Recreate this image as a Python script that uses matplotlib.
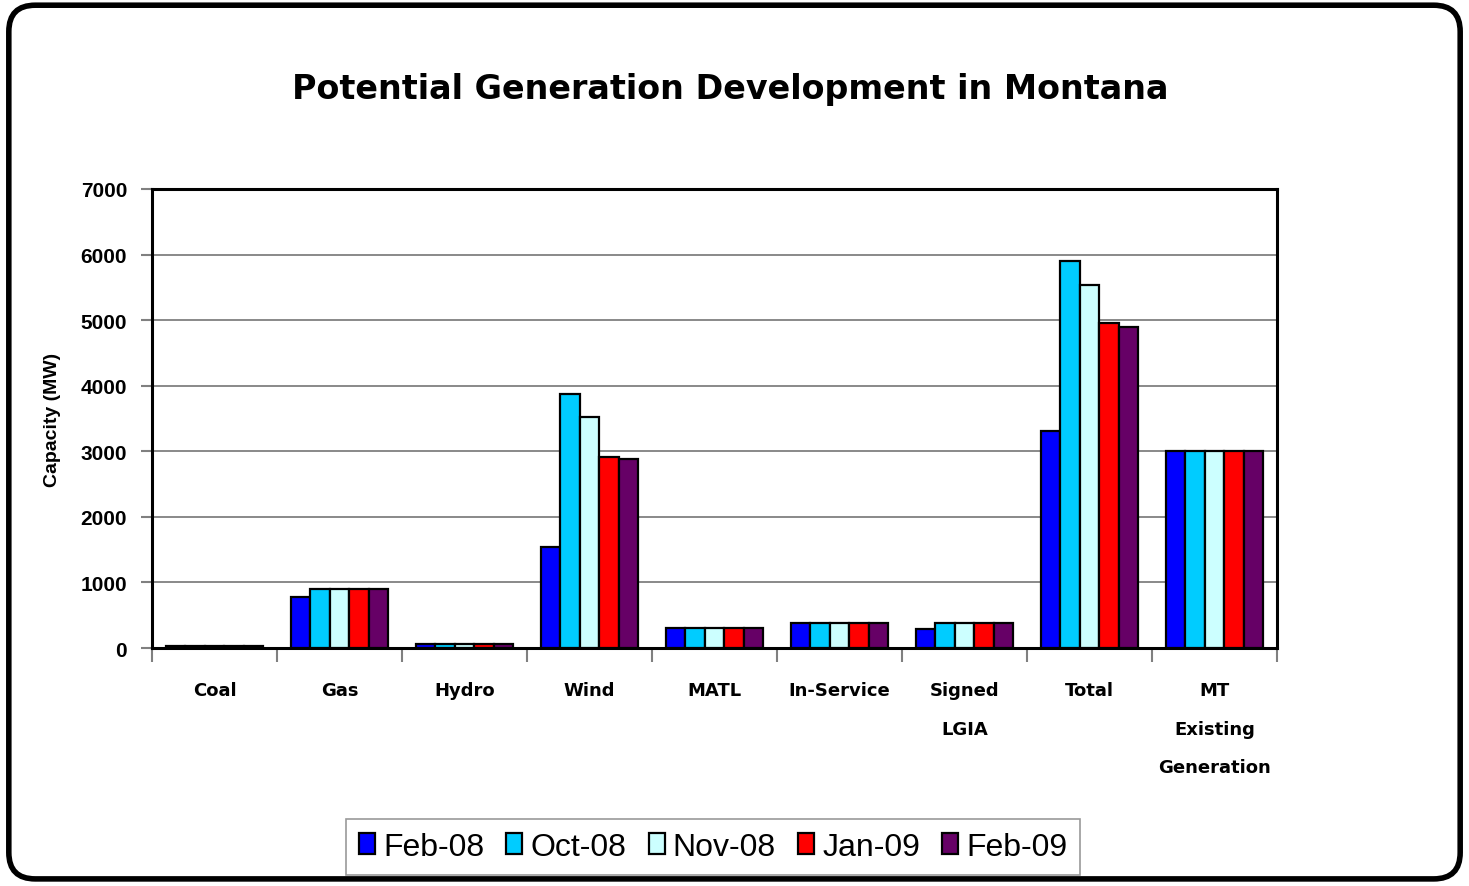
import numpy as np
import matplotlib.pyplot as plt
from matplotlib.patches import FancyBboxPatch

# categories and series values (MW)
categories = ['Coal', 'Gas', 'Hydro', 'Wind', 'MATL', 'In-Service',
              'Signed\nLGIA', 'Total', 'MT\nExisting\nGeneration']
series = ['Feb-08', 'Oct-08', 'Nov-08', 'Jan-09', 'Feb-09']
feb08 = [25, 775, 65, 1540, 300, 380, 290, 3310, 3000]
oct08 = [25, 900, 65, 3880, 300, 380, 380, 5900, 3000]
nov08 = [25, 900, 65, 3520, 300, 380, 380, 5530, 3000]
jan09 = [25, 900, 65, 2910, 300, 380, 380, 4950, 3000]
feb09 = [25, 900, 65, 2880, 300, 380, 380, 4890, 3000]
colors = ['#0000FF', '#00CCFF', '#CCFFFF', '#FF0000', '#660066']

data = [feb08, oct08, nov08, jan09, feb09]

fig = plt.figure(figsize=(14.69, 8.87), dpi=100)
ax = fig.add_axes([0.1035, 0.2683, 0.7658, 0.5175])

# rounded outer border
border = FancyBboxPatch((0.006, 0.008), 0.988, 0.985,
                        boxstyle='round,pad=0,rounding_size=0.018',
                        transform=fig.transFigure, fill=False,
                        edgecolor='black', linewidth=4, mutation_aspect=1.65)
fig.patches.append(border)

width = 0.156
x = np.arange(len(categories))
bars = []
for i, vals in enumerate(data):
    b = ax.bar(x + (i - 2) * width, vals, width, color=colors[i],
               edgecolor='black', linewidth=1.6, zorder=3)
    bars.append(b)

ax.set_xlim(-0.5, len(categories) - 0.5)
ax.set_ylim(0, 7000)
ax.set_yticks(np.arange(0, 7001, 1000))
ax.yaxis.grid(True, color='#808080', linewidth=1.3, zorder=0)

ax.set_xticks(np.arange(-0.5, len(categories), 1.0))
ax.set_xticklabels([])
ax.set_xticks(x, minor=True)
ax.set_xticklabels(categories, minor=True, fontfamily='DejaVu Sans',
                   fontweight='bold', fontsize=13, linespacing=2.45,
                   va='top')
ax.tick_params(axis='x', which='minor', length=0, pad=24)
ax.tick_params(axis='x', which='major', length=10, width=1.5,
               color='#808080', direction='out')
ax.tick_params(axis='y', length=8, width=1.5, color='#808080', pad=10)
for lbl in ax.get_yticklabels():
    lbl.set_fontfamily('Liberation Sans')
    lbl.set_fontweight('bold')
    lbl.set_fontsize(15)

for s in ax.spines.values():
    s.set_linewidth(2.2)
    s.set_color('black')

ax.set_ylabel('Capacity (MW)', fontfamily='Liberation Sans',
              fontweight='bold', fontsize=14, labelpad=14)

fig.text(0.497, 0.899, 'Potential Generation Development in Montana',
         ha='center', va='center', fontfamily='DejaVu Sans',
         fontweight='bold', fontsize=24)

leg = ax.legend(bars, series, loc='center', ncol=5,
                bbox_to_anchor=(0.4855, 0.044), bbox_transform=fig.transFigure,
                prop={'family': 'Liberation Sans', 'size': 23},
                handlelength=0.5, handleheight=0.65, handletextpad=0.25,
                columnspacing=0.7, fancybox=False, borderpad=0.4,
                edgecolor='#808080')
leg.get_frame().set_linewidth(1.2)

fig.savefig('out.png', dpi=100)
